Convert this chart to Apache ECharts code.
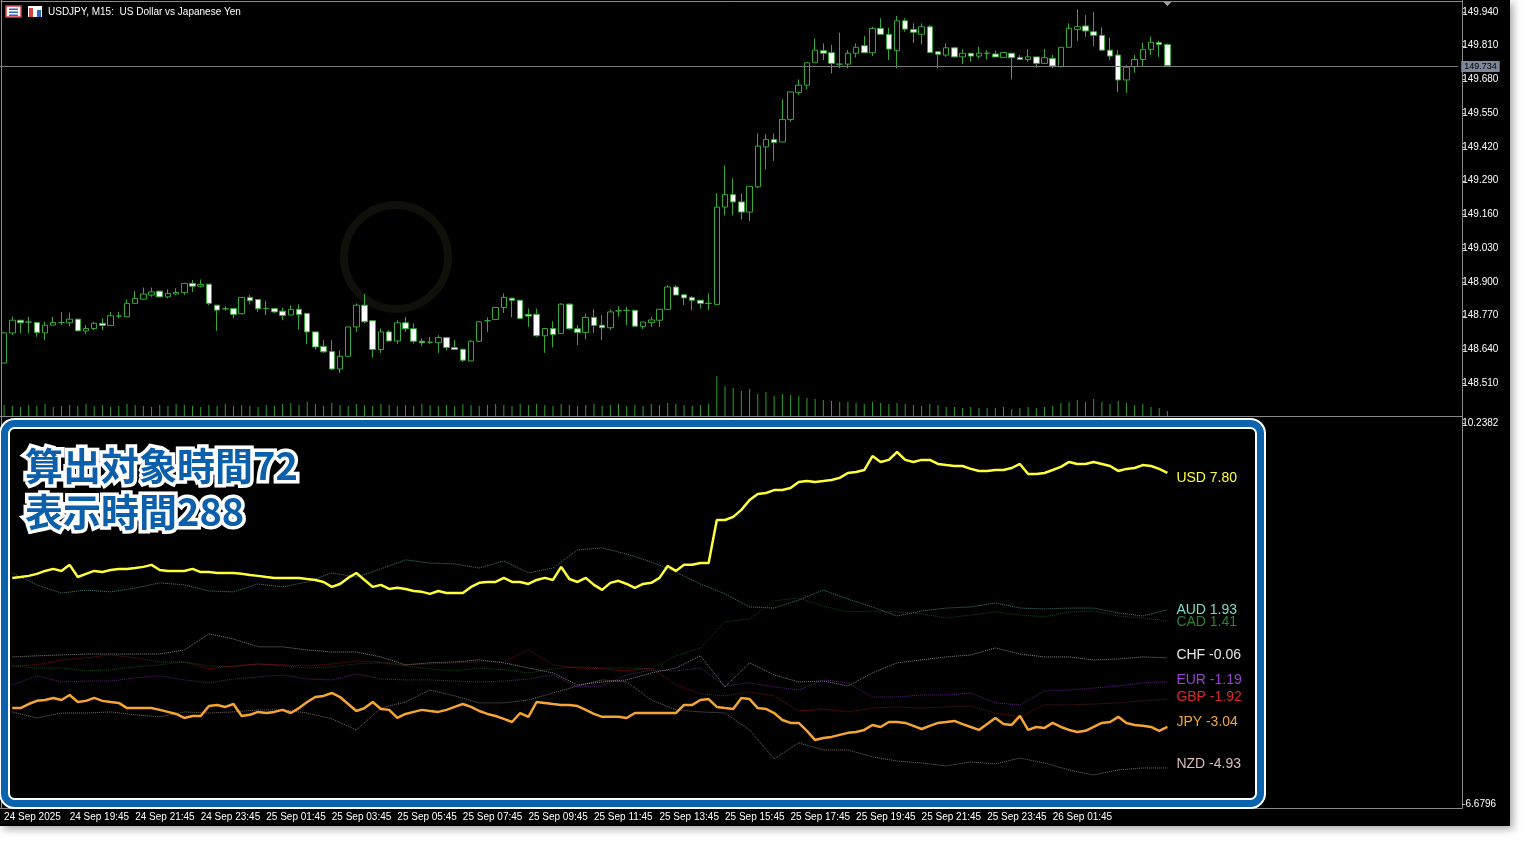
<!DOCTYPE html>
<html><head><meta charset="utf-8">
<script src="https://cdn.jsdelivr.net/npm/echarts@6/dist/echarts.min.js"></script>
<style>
html,body{margin:0;padding:0;background:#fff;width:1536px;height:850px;overflow:hidden}
#c{position:absolute;left:0;top:0;width:1510px;height:826px;background:#000;box-shadow:3px 3px 8px rgba(0,0,0,0.35)}
</style></head><body><div id="c"></div>
<script>
const timeLabels=['24 Sep 2025','24 Sep 19:45','24 Sep 21:45','24 Sep 23:45','25 Sep 01:45','25 Sep 03:45','25 Sep 05:45','25 Sep 07:45','25 Sep 09:45','25 Sep 11:45','25 Sep 13:45','25 Sep 15:45','25 Sep 17:45','25 Sep 19:45','25 Sep 21:45','25 Sep 23:45','26 Sep 01:45'];
const priceTicks=[148.510,149.940,0.130];
const indTicks=[-6.6796,10.2382];
const currentPrice=149.734;
const open=[148.587,148.703,148.752,148.745,148.743,148.703,148.733,148.743,148.742,148.756,
148.711,148.720,148.740,148.732,148.768,148.765,148.817,148.833,148.849,148.864,
148.842,148.853,148.858,148.894,148.883,148.891,148.810,148.796,148.797,148.777,
148.840,148.832,148.797,148.797,148.787,148.772,148.794,148.778,148.707,148.651,
148.631,148.564,148.613,148.726,148.810,148.750,148.639,148.707,148.672,148.742,
148.719,148.671,148.667,148.665,148.685,148.647,148.640,148.595,148.671,148.750,
148.755,148.801,148.837,148.829,148.774,148.775,148.692,148.720,148.701,148.814,
148.719,148.705,148.763,148.733,148.723,148.788,148.790,148.790,148.728,148.743,
148.752,148.794,148.880,148.850,148.840,148.829,148.817,148.813,149.188,149.236,
149.208,149.169,149.266,149.420,149.449,149.439,149.526,149.630,149.658,149.746,
149.791,149.783,149.739,149.739,149.781,149.810,149.783,149.877,149.854,149.791,
149.906,149.873,149.854,149.883,149.787,149.774,149.802,149.767,149.781,149.770,
149.781,149.778,149.765,149.781,149.765,149.757,149.767,149.742,149.761,149.729,
149.804,149.873,149.886,149.864,149.850,149.793,149.774,149.678,149.729,149.757,
149.796,149.822,149.815];
const close=[148.703,148.752,148.742,148.745,148.705,148.733,148.743,148.743,148.756,148.711,
148.720,148.740,148.732,148.769,148.768,148.817,148.836,148.853,148.861,148.842,
148.855,148.859,148.894,148.883,148.890,148.817,148.791,148.796,148.774,148.840,
148.827,148.796,148.797,148.784,148.770,148.794,148.774,148.707,148.649,148.630,
148.564,148.613,148.726,148.810,148.746,148.639,148.707,148.672,148.742,148.719,
148.671,148.665,148.667,148.685,148.647,148.639,148.598,148.671,148.746,148.750,
148.801,148.840,148.829,148.759,148.768,148.692,148.720,148.697,148.814,148.719,
148.705,148.763,148.732,148.723,148.784,148.788,148.790,148.729,148.745,148.753,
148.794,148.880,148.849,148.838,148.829,148.817,148.817,149.188,149.236,149.208,
149.169,149.268,149.423,149.449,149.437,149.526,149.632,149.658,149.744,149.793,
149.781,149.742,149.739,149.781,149.804,149.783,149.877,149.854,149.797,149.906,
149.874,149.862,149.883,149.784,149.777,149.802,149.767,149.781,149.770,149.781,
149.781,149.767,149.784,149.764,149.757,149.767,149.742,149.764,149.732,149.804,
149.877,149.883,149.867,149.850,149.793,149.770,149.678,149.727,149.757,149.796,
149.823,149.815,149.734];
const low=[148.586,148.694,148.702,148.701,148.688,148.675,148.733,148.733,148.729,148.711,
148.698,148.714,148.714,148.732,148.759,148.765,148.817,148.832,148.842,148.842,
148.836,148.849,148.849,148.861,148.878,148.810,148.711,148.788,148.759,148.775,
148.813,148.784,148.772,148.780,148.752,148.772,148.716,148.660,148.639,148.626,
148.559,148.549,148.613,148.707,148.740,148.608,148.626,148.672,148.660,148.707,
148.662,148.652,148.660,148.626,148.636,148.639,148.591,148.594,148.668,148.707,
148.755,148.780,148.763,148.759,148.726,148.688,148.626,148.647,148.701,148.716,
148.656,148.678,148.703,148.675,148.714,148.765,148.733,148.728,148.718,148.726,
148.726,148.794,148.849,148.810,148.791,148.797,148.791,148.813,149.156,149.156,
149.140,149.134,149.261,149.333,149.366,149.439,149.517,149.620,149.642,149.746,
149.755,149.703,149.723,149.723,149.765,149.783,149.770,149.854,149.755,149.723,
149.864,149.821,149.815,149.784,149.723,149.767,149.767,149.739,149.748,149.761,
149.757,149.767,149.765,149.680,149.757,149.748,149.725,149.742,149.723,149.729,
149.804,149.829,149.845,149.809,149.791,149.755,149.632,149.628,149.706,149.732,
149.774,149.767,149.734];
const high=[148.706,148.765,148.752,148.765,148.743,148.746,148.765,148.784,148.782,148.756,
148.733,148.746,148.759,148.784,148.784,148.832,148.865,148.878,148.878,148.864,
148.871,148.875,148.896,148.907,148.909,148.891,148.810,148.806,148.797,148.841,
148.849,148.832,148.827,148.797,148.801,148.810,148.813,148.778,148.707,148.675,
148.675,148.636,148.726,148.817,148.853,148.750,148.720,148.714,148.752,148.765,
148.740,148.682,148.688,148.694,148.685,148.675,148.643,148.675,148.748,148.763,
148.802,148.855,148.837,148.829,148.797,148.797,148.720,148.748,148.817,148.817,
148.733,148.778,148.794,148.772,148.794,148.806,148.804,148.792,148.745,148.765,
148.794,148.887,148.887,148.850,148.845,148.829,148.855,149.242,149.349,149.298,
149.240,149.268,149.472,149.469,149.472,149.603,149.632,149.680,149.747,149.838,
149.819,149.813,149.860,149.793,149.819,149.847,149.883,149.916,149.879,149.925,
149.916,149.896,149.896,149.890,149.787,149.819,149.802,149.797,149.781,149.806,
149.793,149.791,149.784,149.781,149.774,149.797,149.767,149.797,149.774,149.804,
149.896,149.950,149.928,149.939,149.881,149.841,149.793,149.735,149.774,149.822,
149.845,149.829,149.819];
const volume=[1100,1000,900,1100,1000,1200,900,1000,1100,1000,
1200,1000,1100,900,1000,1200,1100,1000,900,1100,
1000,1200,1100,1000,900,1100,1000,1200,1000,1100,
1000,900,1100,1000,1200,1300,1100,1400,1200,1000,
1300,1100,1000,1200,1100,1000,1200,1100,1000,1100,
1000,1200,1100,1000,1100,1000,1200,1100,1000,1100,
1200,1100,1000,1200,1100,1200,1100,1000,1200,1100,
1000,1100,1200,1000,1100,1200,1000,1100,1000,1200,
1100,1300,1200,1100,1000,1100,1200,4000,3000,2800,
2500,2700,2200,2400,2000,2200,2100,2000,1800,1700,
1600,1500,1400,1400,1300,1200,1400,1300,1200,1300,
1200,1100,1000,1200,1100,900,900,800,900,800,
800,800,900,700,800,900,800,900,1000,1300,
1400,1600,1400,1700,1400,1200,1500,1300,1100,1200,
900,800,500];
// strength lines, one value per bar from bar 1
const usd=[3.36,3.40,3.45,3.54,3.67,3.76,3.67,3.94,3.40,3.54,
3.67,3.62,3.71,3.76,3.76,3.80,3.85,3.94,3.71,3.67,
3.67,3.67,3.76,3.62,3.62,3.58,3.58,3.58,3.54,3.49,
3.45,3.40,3.36,3.36,3.36,3.36,3.31,3.27,3.18,2.96,
3.09,3.36,3.58,3.27,2.96,3.05,2.87,2.92,2.87,2.78,
2.74,2.65,2.78,2.69,2.69,2.69,2.96,3.14,3.18,3.18,
3.36,3.18,3.18,3.09,3.27,3.36,3.27,3.85,3.31,3.18,
3.36,3.05,2.83,3.14,3.23,3.09,2.92,3.09,3.14,3.36,
3.89,3.67,3.94,3.94,4.02,4.02,5.93,5.93,6.07,6.38,
6.82,7.09,7.13,7.26,7.26,7.35,7.62,7.66,7.62,7.66,
7.71,7.80,8.02,8.06,8.15,8.77,8.51,8.60,8.95,8.60,
8.51,8.60,8.60,8.42,8.37,8.33,8.33,8.20,8.11,8.11,
8.15,8.15,8.24,8.42,7.97,7.97,8.02,8.15,8.29,8.51,
8.42,8.42,8.51,8.42,8.33,8.11,8.20,8.24,8.37,8.33,
8.20,8.02];
const jpy=[-2.42,-2.42,-2.24,-2.10,-2.06,-1.97,-2.06,-1.84,-2.15,-2.10,
-1.97,-2.10,-2.15,-2.19,-2.42,-2.42,-2.42,-2.42,-2.50,-2.59,
-2.68,-2.86,-2.77,-2.77,-2.33,-2.28,-2.37,-2.24,-2.77,-2.72,
-2.59,-2.64,-2.59,-2.50,-2.64,-2.42,-2.15,-1.93,-1.88,-1.75,
-1.93,-2.24,-2.55,-2.42,-2.15,-2.46,-2.50,-2.86,-2.68,-2.59,
-2.50,-2.55,-2.59,-2.50,-2.37,-2.24,-2.37,-2.55,-2.68,-2.77,
-2.90,-3.04,-2.64,-2.81,-2.15,-2.19,-2.24,-2.28,-2.28,-2.33,
-2.50,-2.68,-2.81,-2.81,-2.81,-2.86,-2.64,-2.64,-2.64,-2.64,
-2.64,-2.64,-2.28,-2.28,-2.06,-2.02,-2.37,-2.42,-2.46,-1.97,
-2.02,-2.42,-2.46,-2.64,-2.95,-3.08,-3.08,-3.43,-3.84,-3.75,
-3.70,-3.61,-3.52,-3.48,-3.39,-3.17,-3.26,-3.04,-3.04,-3.08,
-3.21,-3.35,-3.21,-3.08,-3.04,-2.99,-3.13,-3.26,-3.39,-3.13,
-2.86,-3.13,-3.17,-2.77,-3.39,-3.26,-3.30,-3.08,-3.26,-3.39,
-3.48,-3.43,-3.26,-3.08,-3.04,-2.81,-3.08,-3.17,-3.21,-3.26,
-3.43,-3.26];
// dotted lines, read every third bar (bars 1,4,7,...,142)
const aud=[3.58,3.05,2.69,2.82,2.74,2.91,3.14,3.05,2.78,2.74,3.09,2.96,3.18,3.58,3.40,3.76,4.16,4.02,3.98,3.80,4.11,3.58,3.80,4.60,4.69,4.42,4.07,3.62,3.09,2.65,2.07,2.02,2.38,2.82,2.42,2.07,1.67,1.89,2.02,2.07,2.25,2.02,1.98,2.02,2.02,1.80,1.67,1.94];
const cad=[-0.55,-0.64,-0.64,-0.77,-0.72,-0.59,-0.50,-0.37,-0.55,-0.59,-0.46,-0.55,-0.64,-0.59,-0.46,-0.41,-0.55,-0.68,-0.77,-0.64,-0.72,-0.86,-0.68,-0.59,-0.64,-0.64,-0.68,-0.10,0.25,1.41,1.54,2.34,2.47,2.11,1.85,1.89,1.85,1.76,1.58,1.71,1.85,1.71,1.63,1.85,1.89,1.67,1.58,1.45];
const chf=[-0.15,-0.10,-0.06,-0.02,-0.02,-0.02,-0.02,0.16,0.87,0.65,0.30,0.30,0.16,0.07,0.07,-0.15,-0.50,-0.41,-0.37,-0.28,-0.41,-0.64,-0.86,-1.39,-1.26,-1.17,-0.86,-0.64,-0.10,-1.48,-0.41,-0.95,-1.26,-1.22,-1.44,-0.86,-0.41,-0.28,-0.15,-0.06,0.25,-0.02,-0.15,-0.15,-0.28,-0.24,-0.15,-0.19];
const eur=[-1.39,-0.99,-1.26,-1.22,-1.22,-1.08,-0.99,-1.17,-1.30,-1.13,-1.04,-0.95,-1.13,-1.17,-0.90,-1.13,-1.17,-1.17,-1.22,-1.26,-1.22,-1.13,-0.95,-1.48,-1.44,-0.95,-0.73,-0.77,-0.64,-1.44,-1.30,-1.48,-1.62,-1.17,-1.30,-1.93,-1.93,-1.84,-1.84,-1.75,-2.19,-2.28,-1.66,-1.62,-1.53,-1.44,-1.30,-1.26];
const gbp=[-0.55,-0.50,-0.28,-0.19,-0.06,-0.19,-0.37,-0.37,-0.68,-0.55,-0.46,-0.50,-0.55,-0.46,-0.33,-0.37,-0.50,-0.46,-0.41,-0.37,-0.37,0.16,-0.50,-0.64,-0.68,-0.77,-0.64,-1.39,-1.79,-1.88,-1.70,-1.88,-2.55,-2.46,-2.59,-2.42,-2.37,-2.42,-2.37,-2.33,-2.64,-2.81,-2.28,-2.28,-2.24,-2.19,-2.10,-2.02];
const nzd=[-2.59,-2.86,-2.64,-2.64,-2.59,-2.72,-2.81,-2.59,-2.64,-2.59,-2.50,-2.50,-2.64,-2.90,-3.39,-2.42,-2.15,-1.62,-1.88,-2.19,-2.19,-2.06,-1.75,-1.44,-1.17,-1.26,-2.06,-2.50,-2.59,-2.64,-3.39,-4.68,-3.97,-4.28,-4.28,-4.59,-4.77,-4.86,-4.99,-4.81,-4.90,-4.64,-4.86,-5.17,-5.39,-5.17,-5.08,-5.08];
const currencies=['USD','AUD','CAD','CHF','EUR','GBP','JPY','NZD'];
const finalValues=[7.80,1.93,1.41,-0.06,-1.19,-1.92,-3.04,-4.93];
const colors={USD:'#ffff3a',AUD:'#7fdcc8',CAD:'#2e8030',CHF:'#e6e6e6',EUR:'#9a3fd0',GBP:'#d42a2a',JPY:'#f5a534',NZD:'#dcbcbc'};

const SLOTS=178, BW=8.2, GL=-1.4;
const slots=[]; for(let i=0;i<SLOTS;i++) slots.push(String(i));
const candles=open.map((o,i)=>[o,close[i],low[i],high[i]]);
const full=a=>[null].concat(a);
const sparse=a=>a.map((v,k)=>[1+3*k,v]);

const chart=echarts.init(document.getElementById('c'),null,{width:1510,height:826});
const FONT='"Liberation Sans", Arial, sans-serif';
const xa=(g,show)=>({type:'category',gridIndex:g,data:slots,boundaryGap:true,
  axisLine:{show:false},axisTick:{show:false},splitLine:{show:false},
  axisLabel:show?{show:true,interval:0,align:'left',margin:8,color:'#ffffff',fontSize:10,fontFamily:FONT,
    formatter:(v,idx)=>(idx%8===0&&timeLabels[idx/8])?timeLabels[idx/8]:''}:{show:false}});
const dotted=(name,data)=>({name,type:'line',xAxisIndex:2,yAxisIndex:2,data:sparse(data),symbol:'none',
  connectNulls:true,lineStyle:{color:colors[name],width:1,type:'dotted',opacity:0.55},z:2,silent:true});
chart.setOption({
  animation:false,backgroundColor:'#000',
  grid:[{left:GL,width:SLOTS*BW,top:12,height:371},
        {left:GL,width:SLOTS*BW,top:376,height:40},
        {left:GL,width:SLOTS*BW,top:423,height:381}],
  xAxis:[xa(0,false),xa(1,false),xa(2,true)],
  yAxis:[
    {type:'value',gridIndex:0,position:'right',min:priceTicks[0],max:priceTicks[1],interval:priceTicks[2],offset:4,
     axisLine:{show:false},axisTick:{show:false},splitLine:{show:false},
     axisLabel:{color:'#fff',fontSize:10,fontFamily:FONT,margin:0,formatter:v=>v.toFixed(3)}},
    {type:'value',gridIndex:1,min:0,max:4000,show:false},
    {type:'value',gridIndex:2,position:'right',min:indTicks[0],max:indTicks[1],interval:indTicks[1]-indTicks[0],offset:4,
     axisLine:{show:false},axisTick:{show:false},splitLine:{show:false},
     axisLabel:{color:'#fff',fontSize:10,fontFamily:FONT,margin:0,formatter:v=>v.toFixed(4)}}
  ],
  series:[
    {type:'candlestick',xAxisIndex:0,yAxisIndex:0,data:candles,barWidth:6,clip:false,
     itemStyle:{color:'#000',color0:'#ffffff',borderColor:'#36a836',borderColor0:'#36a836',borderWidth:1},
     markLine:{symbol:'none',silent:true,data:[{yAxis:currentPrice}],lineStyle:{color:'#7a7a7a',width:1,type:'solid'},
       label:{position:'end',distance:3,formatter:()=>currentPrice.toFixed(3),backgroundColor:'#7d8797',color:'#000',fontSize:9,fontFamily:FONT,padding:[1,3]}}},
    {type:'bar',xAxisIndex:1,yAxisIndex:1,data:volume,barWidth:1,itemStyle:{color:'#2e9e2e'},silent:true},
    dotted('AUD',aud),dotted('CAD',cad),dotted('CHF',chf),dotted('EUR',eur),dotted('GBP',gbp),dotted('NZD',nzd),
    {name:'JPY',type:'line',xAxisIndex:2,yAxisIndex:2,data:full(jpy),symbol:'none',lineStyle:{color:colors.JPY,width:2.5},z:3},
    {name:'USD',type:'line',xAxisIndex:2,yAxisIndex:2,data:full(usd),symbol:'none',lineStyle:{color:colors.USD,width:2.5},z:3}
  ]
});

const g=[];
const ln=(x1,y1,x2,y2,c)=>({type:'line',silent:true,z:5,shape:{x1,y1,x2,y2},style:{stroke:c||'#8a8a8a',lineWidth:1}});
g.push(ln(0.5,1.5,1462.5,1.5),ln(1.5,0,1.5,808),ln(1462.5,0,1462.5,808.5),ln(0,416.5,1462.5,416.5),ln(0,808.5,1462.5,808.5));
const tk=(v,ax)=>{const y=Math.round(chart.convertToPixel({yAxisIndex:ax},v))+0.5;return ln(1462,y,1465,y,'#bbb');};
for(let v=priceTicks[0];v<=priceTicks[1]+1e-6;v+=priceTicks[2]) g.push(tk(v,0));
indTicks.forEach(v=>g.push(tk(v,2)));
g.push({type:'rect',silent:true,shape:{x:6,y:6,width:15,height:11},style:{fill:'#fff',stroke:'#d84040',lineWidth:1.5}});
g.push({type:'rect',silent:true,shape:{x:9,y:8.5,width:9,height:1.5},style:{fill:'#3060c0'}});
g.push({type:'rect',silent:true,shape:{x:9,y:11.5,width:9,height:1.5},style:{fill:'#3060c0'}});
g.push({type:'rect',silent:true,shape:{x:9,y:14.5,width:9,height:1.5},style:{fill:'#3060c0'}});
g.push({type:'rect',silent:true,shape:{x:28,y:6,width:14,height:11},style:{fill:'#fff'}});
g.push({type:'rect',silent:true,shape:{x:29,y:8,width:4,height:9},style:{fill:'#d84040'}});
g.push({type:'rect',silent:true,shape:{x:37,y:10,width:4,height:7},style:{fill:'#3060c0'}});
g.push({type:'text',silent:true,style:{x:48,y:12,text:'USDJPY, M15:  US Dollar vs Japanese Yen',fill:'#fff',font:'10px '+FONT,verticalAlign:'middle'}});
g.push({type:'circle',silent:true,z:1,shape:{cx:396,cy:257,r:52},style:{fill:'none',stroke:'#10100a',lineWidth:8}});
const lx=chart.convertToPixel({xAxisIndex:0},String(open.length-1));
g.push({type:'polygon',silent:true,shape:{points:[[lx-4,2],[lx+4,2],[lx,6]]},style:{fill:'#a0a0a0'}});
g.push({type:'rect',silent:true,z:20,shape:{x:4.5,y:423.5,width:1256,height:380,r:10},style:{fill:'none',stroke:'#ffffff',lineWidth:11}});
g.push({type:'rect',silent:true,z:21,shape:{x:4.5,y:423.5,width:1256,height:380,r:10},style:{fill:'none',stroke:'#0b63ad',lineWidth:7}});
const titleLines=['算出対象時間72','表示時間288'];
titleLines.forEach((t,i)=>{
  const y=466+i*46, font='bold 38px "Noto Sans CJK JP", sans-serif';
  g.push({type:'text',silent:true,z:22,style:{x:25,y,text:t,font,verticalAlign:'middle',fill:'#fff',stroke:'#fff',lineWidth:7,shadowBlur:4,shadowColor:'rgba(0,0,0,0.7)',shadowOffsetX:1,shadowOffsetY:1}});
  g.push({type:'text',silent:true,z:23,style:{x:25,y,text:t,font,verticalAlign:'middle',fill:'#0b5fab'}});
});
const endX=chart.convertToPixel({xAxisIndex:2},String(usd.length))+9;
currencies.forEach((c,i)=>{
  const y=chart.convertToPixel({yAxisIndex:2},finalValues[i]);
  g.push({type:'text',silent:true,z:10,style:{x:endX,y,text:c+' '+finalValues[i].toFixed(2),fill:colors[c],font:'14px '+FONT,verticalAlign:'middle'}});
});
chart.setOption({graphic:{elements:g}});
</script></body></html>
